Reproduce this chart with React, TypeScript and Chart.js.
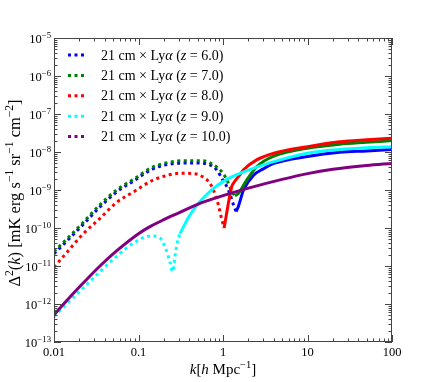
import React, { useEffect, useRef } from "react";
import { Chart, registerables } from "chart.js";
Chart.register(...registerables);

// ---------- data ----------
const Z_LABELS = ["6.0", "7.0", "8.0", "9.0", "10.0"];
const COLORS = ["#0000ff", "#008000", "#ff0000", "#00ffff", "#800080"];

// z = 6.0 (blue)
const K_NEG_Z6 = [0.01, 0.014, 0.022, 0.035, 0.055, 0.09, 0.137, 0.2, 0.34, 0.55, 0.7, 0.84, 1.0, 1.16, 1.33, 1.43];
const V_NEG_Z6 = [2.1e-11, 4.4e-11, 1.23e-10, 3.6e-10, 8.9e-10, 1.8e-9, 3.3e-9, 4.5e-9, 5.1e-9, 5.1e-9, 4.6e-9, 3.4e-9, 1.8e-9, 1.0e-9, 4.1e-10, 2.7e-10];
const K_POS_Z6 = [1.43, 1.52, 1.75, 2.3, 3, 4, 10, 24, 50, 100];
const V_POS_Z6 = [2.7e-10, 3.7e-10, 1.0e-9, 2.45e-9, 3.6e-9, 5.0e-9, 7.6e-9, 9.8e-9, 1.07e-8, 1.17e-8];

// z = 7.0 (green)
const K_NEG_Z7 = [0.01, 0.014, 0.022, 0.035, 0.055, 0.09, 0.137, 0.2, 0.34, 0.58, 0.77, 1.0, 1.16, 1.27, 1.38];
const V_NEG_Z7 = [2.4e-11, 5.0e-11, 1.38e-10, 4.1e-10, 1.0e-9, 2.0e-9, 3.7e-9, 5.0e-9, 5.9e-9, 5.9e-9, 4.6e-9, 2.75e-9, 1.5e-9, 9.1e-10, 7.1e-10];
const K_POS_Z7 = [1.38, 1.52, 1.9, 2.5, 3, 4, 10, 24, 50, 100];
const V_POS_Z7 = [7.1e-10, 8.1e-10, 1.8e-9, 4.1e-9, 5.6e-9, 7.8e-9, 1.26e-8, 1.6e-8, 1.8e-8, 2.0e-8];

// z = 8.0 (red)
const K_NEG_Z8 = [0.01, 0.014, 0.022, 0.035, 0.055, 0.09, 0.137, 0.2, 0.31, 0.45, 0.53, 0.7, 0.8, 0.88, 0.96, 1.03];
const V_NEG_Z8 = [9.3e-12, 2.2e-11, 6.9e-11, 1.8e-10, 4.7e-10, 9.3e-10, 1.66e-9, 2.3e-9, 2.75e-9, 2.7e-9, 2.45e-9, 1.5e-9, 8.1e-10, 4.1e-10, 1.8e-10, 1.0e-10];
const K_POS_Z8 = [1.03, 1.27, 1.33, 1.6, 1.75, 2.5, 4, 10, 24, 50, 100];
const V_POS_Z8 = [1.0e-10, 1.23e-9, 1.5e-9, 2.6e-9, 3.4e-9, 6.2e-9, 9.3e-9, 1.38e-8, 1.86e-8, 2.1e-8, 2.3e-8];

// z = 9.0 (cyan)
const K_NEG_Z9 = [0.01, 0.022, 0.035, 0.055, 0.087, 0.14, 0.18, 0.206, 0.235, 0.254, 0.27, 0.29, 0.31];
const V_NEG_Z9 = [4.7e-13, 2.6e-12, 7.1e-12, 1.8e-11, 4.0e-11, 6.2e-11, 5.4e-11, 3.2e-11, 1.3e-11, 7.1e-12, 1.8e-11, 4.5e-11, 7.1e-11];
const K_POS_Z9 = [0.31, 0.39, 0.5, 0.64, 0.8, 1.0, 1.2, 1.59, 2.5, 4, 10, 24, 50, 100];
const V_POS_Z9 = [7.1e-11, 1.9e-10, 4.2e-10, 7.6e-10, 1.17e-9, 1.66e-9, 2.1e-9, 2.75e-9, 4.0e-9, 5.6e-9, 9.3e-9, 1.17e-8, 1.3e-8, 1.38e-8];

// z = 10.0 (purple)
const K_NEG_Z10: number[] = [];
const V_NEG_Z10: number[] = [];
const K_POS_Z10 = [0.01, 0.014, 0.022, 0.035, 0.055, 0.1, 0.14, 0.2, 0.3, 0.5, 1, 2, 5, 10, 20, 50, 100];
const V_POS_Z10 = [5.2e-13, 1.2e-12, 3.5e-12, 1.0e-11, 2.5e-11, 7.1e-11, 1.12e-10, 1.66e-10, 2.5e-10, 4.2e-10, 7.1e-10, 1.12e-9, 1.9e-9, 2.7e-9, 3.5e-9, 4.4e-9, 5.0e-9];

const SERIES = [
  { kn: K_NEG_Z6, vn: V_NEG_Z6, kp: K_POS_Z6, vp: V_POS_Z6 },
  { kn: K_NEG_Z7, vn: V_NEG_Z7, kp: K_POS_Z7, vp: V_POS_Z7 },
  { kn: K_NEG_Z8, vn: V_NEG_Z8, kp: K_POS_Z8, vp: V_POS_Z8 },
  { kn: K_NEG_Z9, vn: V_NEG_Z9, kp: K_POS_Z9, vp: V_POS_Z9 },
  { kn: K_NEG_Z10, vn: V_NEG_Z10, kp: K_POS_Z10, vp: V_POS_Z10 },
];

const X_MAJOR = [0.01, 0.1, 1, 10, 100];
const X_TICK_LABELS = ["0.01", "0.1", "1", "10", "100"];
const Y_EXPONENTS = [-13, -12, -11, -10, -9, -8, -7, -6, -5];

// ---------- text helpers ----------
const FAMILY = '"Liberation Serif", "Times New Roman", serif';
type Seg = { t: string; i?: boolean; s?: boolean };
const fnt = (size: number, it?: boolean) => `${it ? "italic " : ""}${size}px ${FAMILY}`;
function richWidth(ctx: CanvasRenderingContext2D, segs: Seg[], size: number) {
  let w = 0;
  for (const g of segs) {
    ctx.font = fnt(g.s ? size * 0.7 : size, g.i);
    w += ctx.measureText(g.t).width;
  }
  return w;
}
function drawRich(ctx: CanvasRenderingContext2D, segs: Seg[], x: number, y: number, size: number, align: "left" | "center" | "right") {
  const w = richWidth(ctx, segs, size);
  let cx = align === "left" ? x : align === "center" ? x - w / 2 : x - w;
  ctx.textAlign = "left";
  ctx.textBaseline = "alphabetic";
  for (const g of segs) {
    const sz = g.s ? size * 0.7 : size;
    ctx.font = fnt(sz, g.i);
    ctx.fillText(g.t, cx, g.s ? y - size * 0.4 : y);
    cx += ctx.measureText(g.t).width;
  }
}

const decorPlugin = {
  id: "decor",
  afterDatasetsDraw(chart: any) {
    const ctx: CanvasRenderingContext2D = chart.ctx;
    const xs = chart.scales.x;
    const ys = chart.scales.y;
    const { left, right, top, bottom } = chart.chartArea;
    ctx.save();
    // frame
    ctx.strokeStyle = "#444";
    ctx.lineWidth = 1;
    ctx.strokeRect(left + 0.5, top + 0.5, right - left - 1, bottom - top - 1);
    // ticks
    const tick = (x1: number, y1: number, x2: number, y2: number) => {
      ctx.beginPath();
      ctx.moveTo(x1, y1);
      ctx.lineTo(x2, y2);
      ctx.stroke();
    };
    for (let e = -2; e <= 2; e++) {
      for (let m = 1; m <= 9; m++) {
        const v = m * Math.pow(10, e);
        if (v > 100.0001) continue;
        const px = Math.round(xs.getPixelForValue(v)) + 0.5;
        const len = m === 1 ? 7 : 3.5;
        tick(px, bottom, px, bottom - len);
        tick(px, top, px, top + len);
      }
    }
    for (let e = -13; e <= -5; e++) {
      for (let m = 1; m <= 9; m++) {
        const v = m * Math.pow(10, e);
        if (e === -5 && m > 1) continue;
        const py = Math.round(ys.getPixelForValue(v)) + 0.5;
        const len = m === 1 ? 7 : 3.5;
        tick(left, py, left + len, py);
        tick(right, py, right - len, py);
      }
    }
    ctx.fillStyle = "#000";
    // x tick labels
    X_MAJOR.forEach((v, i) => {
      const px = xs.getPixelForValue(v);
      drawRich(ctx, [{ t: X_TICK_LABELS[i] }], px, 356, 12.5, "center");
    });
    // y tick labels
    Y_EXPONENTS.forEach((e) => {
      const py = ys.getPixelForValue(Math.pow(10, e));
      drawRich(ctx, [{ t: "10" }, { t: "\u2212" + Math.abs(e), s: true }], 51, py + 5, 12.5, "right");
    });
    // x title
    drawRich(
      ctx,
      [{ t: "k", i: true }, { t: "[" }, { t: "h", i: true }, { t: " Mpc" }, { t: "\u22121", s: true }, { t: "]" }],
      (left + right) / 2,
      374,
      15,
      "center"
    );
    // y title
    ctx.save();
    ctx.translate(20, 193);
    ctx.rotate(-Math.PI / 2);
    drawRich(
      ctx,
      [
        { t: "\u0394" },
        { t: "2", s: true },
        { t: "(" },
        { t: "k", i: true },
        { t: ") [mK erg s" },
        { t: "\u22121", s: true },
        { t: " sr" },
        { t: "\u22121", s: true },
        { t: " cm" },
        { t: "\u22122", s: true },
        { t: "]" },
      ],
      0,
      0,
      16.5,
      "center"
    );
    ctx.restore();
    // legend
    Z_LABELS.forEach((z, i) => {
      const yc = 55 + 20.4 * i;
      ctx.strokeStyle = COLORS[i];
      ctx.lineWidth = 3;
      ctx.lineCap = "butt";
      ctx.setLineDash([3, 3.5]);
      ctx.beginPath();
      ctx.moveTo(68, yc);
      ctx.lineTo(87, yc);
      ctx.stroke();
      ctx.setLineDash([]);
      ctx.fillStyle = "#000";
      drawRich(
        ctx,
        [{ t: "21 cm \u00d7 Ly" }, { t: "\u03b1", i: true }, { t: " (" }, { t: "z", i: true }, { t: " = " + z + ")" }],
        101,
        yc + 4.5,
        14,
        "left"
      );
    });
    ctx.restore();
  },
};

export default function App() {
  const ref = useRef<HTMLCanvasElement | null>(null);
  useEffect(() => {
    if (!ref.current) return;
    const datasets: any[] = [];
    SERIES.forEach((s, i) => {
      const order = 100 - i * 2;
      if (s.kn.length) {
        datasets.push({
          data: s.kn.map((k, j) => ({ x: k, y: s.vn[j] })),
          borderColor: COLORS[i],
          borderWidth: 3,
          borderDash: [3, 3.5],
          borderCapStyle: "butt",
          pointRadius: 0,
          fill: false,
          cubicInterpolationMode: "monotone",
          order,
        });
      }
      datasets.push({
        data: s.kp.map((k, j) => ({ x: k, y: s.vp[j] })),
        borderColor: COLORS[i],
        borderWidth: 3,
        pointRadius: 0,
        fill: false,
        cubicInterpolationMode: "monotone",
        order: order - 1,
      });
    });
    const chart = new Chart(ref.current, {
      type: "line",
      data: { datasets },
      options: {
        animation: false,
        responsive: false,
        devicePixelRatio: 1,
        parsing: false as any,
        layout: { padding: { top: 38, right: 44, left: 0, bottom: 0 } },
        plugins: { legend: { display: false }, tooltip: { enabled: false } },
        scales: {
          x: {
            type: "logarithmic",
            min: 0.01,
            max: 100,
            ticks: { display: false },
            grid: { display: false },
            border: { display: false },
            afterFit: (s: any) => {
              s.height = 40;
            },
          },
          y: {
            type: "logarithmic",
            min: 1e-13,
            max: 1e-5,
            ticks: { display: false },
            grid: { display: false },
            border: { display: false },
            afterFit: (s: any) => {
              s.width = 54;
            },
          },
        },
      },
      plugins: [decorPlugin],
    });
    return () => chart.destroy();
  }, []);
  return (
    <div style={{ position: "fixed", left: 0, top: 0, width: 436, height: 382, background: "#fff" }}>
      <canvas ref={ref} width={436} height={382} />
    </div>
  );
}
